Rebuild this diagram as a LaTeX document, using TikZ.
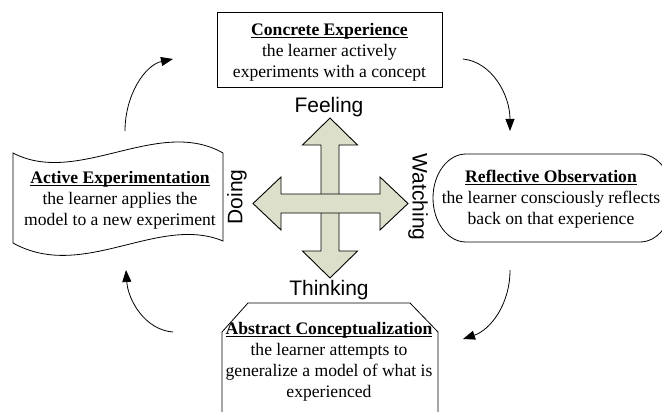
\documentclass[tikz,border=0pt]{standalone}
\usepackage{fontspec}
\setmainfont{Liberation Serif}
\newfontfamily\arialfont{Liberation Sans}
\usetikzlibrary{arrows.meta}
\definecolor{crossfill}{RGB}{220,224,202}
\newcommand\titleul[1]{\setbox0\hbox{\textbf{#1}}\rlap{\rule[-2.4pt]{\wd0}{1.1pt}}\box0}
\tikzset{
  shapeline/.style={draw=black, line width=0.8pt},
  stagetext/.style={align=center, font=\fontsize{17.6}{21}\selectfont, inner sep=0pt},
  axislabel/.style={font=\arialfont\fontsize{21}{24}\selectfont, inner sep=0pt},
  cyclearrow/.style={line width=0.8pt, -{Triangle[length=12pt,width=9pt]}},
  crossarrow/.style={draw=black, line width=0.9pt, fill=crossfill},
}
\begin{document}
\begin{tikzpicture}[x=1pt,y=-1pt]
\useasboundingbox (0,0) rectangle (662,412);
\clip (0,0) rectangle (662,412);
\fill[white] (0,0) rectangle (662,412);

% --- stage shapes ---
% Concrete Experience (rectangle)
\draw[shapeline] (217,12) rectangle (442,87);
% Active Experimentation (tape)
\draw[shapeline] (13,153) .. controls (78,187) and (158,116) .. (223,153)
  -- (223,241) .. controls (158,214) and (83,282) .. (13,243) -- cycle;
% Reflective Observation (stadium, cut by right edge)
\draw[shapeline] (466,154) -- (640,154)
  .. controls (658.2,154) and (673,173.7) .. (673,198)
  .. controls (673,222.3) and (658.2,242) .. (640,242)
  -- (466,242)
  .. controls (447.8,242) and (433,222.3) .. (433,198)
  .. controls (433,173.7) and (447.8,154) .. (466,154) -- cycle;
% Abstract Conceptualization (chamfered top, cut by bottom edge)
\draw[shapeline] (222,425) -- (222,332) -- (248,303) -- (410,303) -- (438,332) -- (438,425);

% --- stage texts ---
\node[stagetext] (ce) at (329.5,52) {\titleul{Concrete Experience}\\the learner actively\\experiments with a concept};
\node[stagetext] (ae) at (120,200) {\titleul{Active Experimentation}\\the learner applies the\\model to a new experiment};
\node[stagetext] (ro) at (551,199) {\titleul{Reflective Observation}\\the learner consciously reflects\\back on that experience};
\node[stagetext] (ac) at (329,362) {\titleul{Abstract Conceptualization}\\the learner attempts to\\generalize a model of what is\\experienced};

% --- central cross ---
\draw[crossarrow] (330,118) -- (357.5,145) -- (339,145) -- (339,251) -- (357.5,251)
  -- (330,278) -- (302.5,251) -- (321,251) -- (321,145) -- (302.5,145) -- cycle;
\draw[crossarrow] (253,203.5) -- (281,177) -- (281,194) -- (380,194) -- (380,177)
  -- (408,203.5) -- (380,230) -- (380,213) -- (281,213) -- (281,230) -- cycle;

% --- axis labels ---
\node[axislabel] (feel) at (329,107) {Feeling};
\node[axislabel] (think) at (329,290) {Thinking};
\node[axislabel, rotate=90] (doing) at (237,197) {Doing};
\node[axislabel, rotate=-90] (watch) at (418,197) {Watching};

% --- cycle arrows ---
\coordinate (a1s) at (125,131); \coordinate (a1e) at (173,59);
\coordinate (a2s) at (463,59);  \coordinate (a2e) at (510,131);
\coordinate (a3s) at (510,270); \coordinate (a3e) at (463,339);
\coordinate (a4s) at (173,332); \coordinate (a4e) at (126,270);
\draw[cyclearrow] (a1s) .. controls (125,95) and (145,65) .. (a1e);
\draw[cyclearrow] (a2s) .. controls (492,62) and (510,95) .. (a2e);
\draw[cyclearrow] (a3s) .. controls (510,305) and (490,330) .. (a3e);
\draw[cyclearrow] (a4s) .. controls (145,330) and (128,300) .. (a4e);
\end{tikzpicture}
\end{document}
